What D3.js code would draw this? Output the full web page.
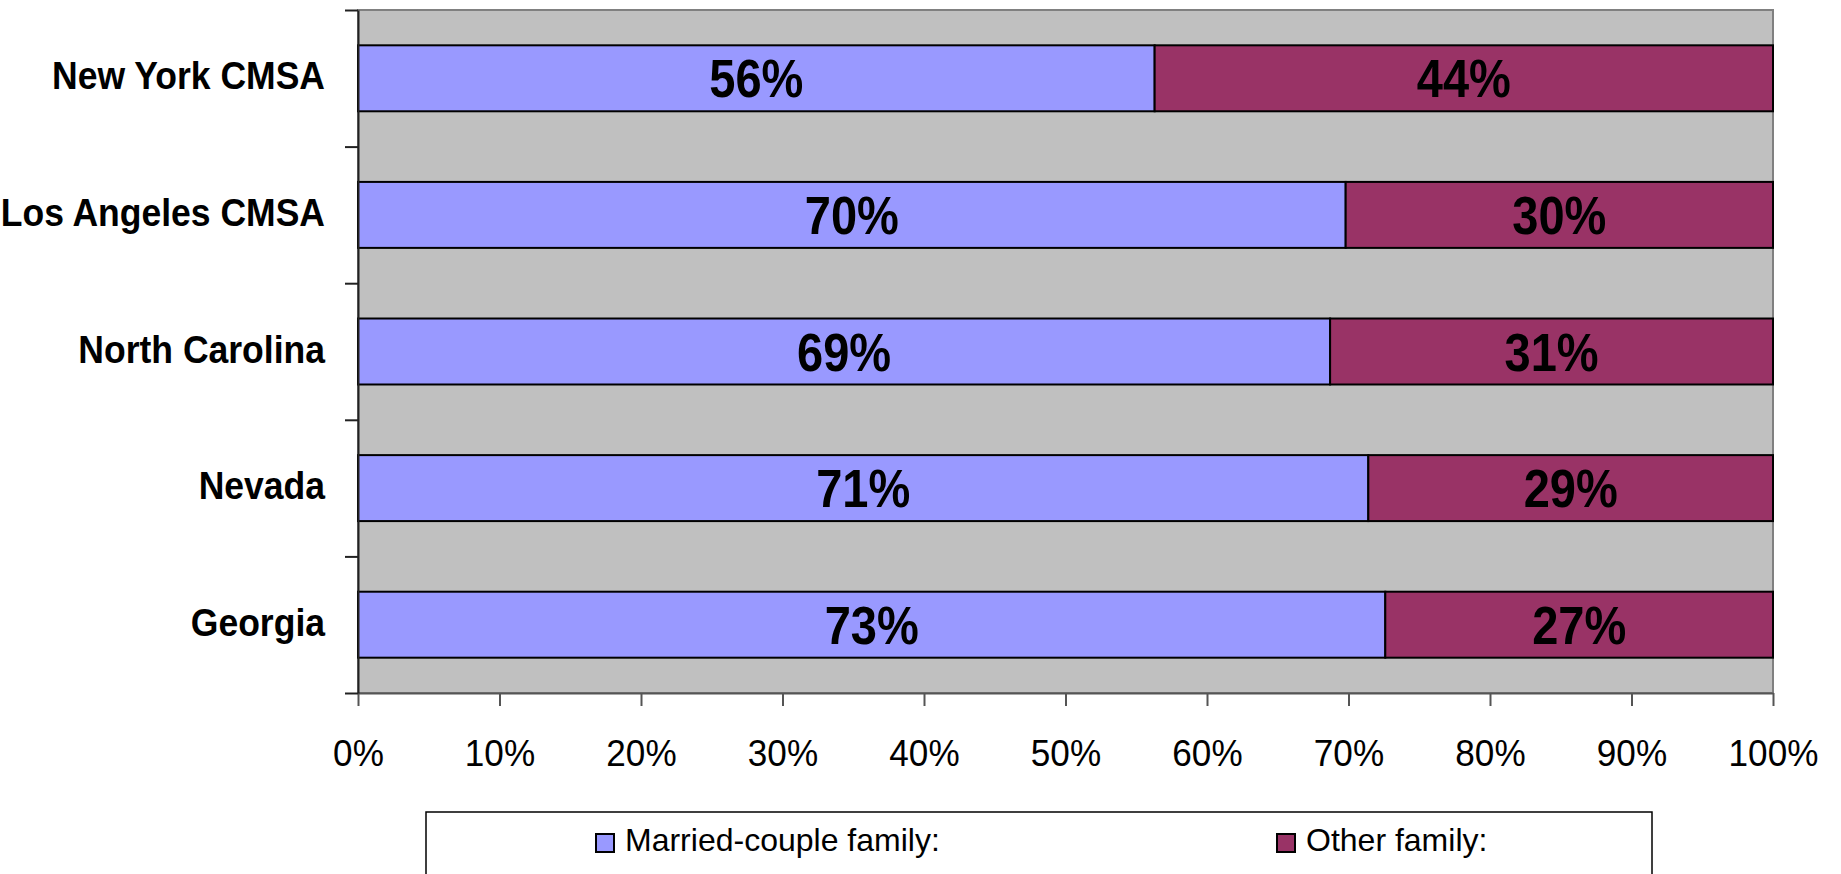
<!DOCTYPE html>
<html>
<head>
<meta charset="utf-8">
<script src="https://cdn.jsdelivr.net/npm/d3@7"></script>
<style>
  body { margin: 0; background: #fff; }
  svg { display: block; font-family: "Liberation Sans", Arial, sans-serif; }
</style>
</head>
<body>
<script>
// data
const categories = ["New York CMSA", "Los Angeles CMSA", "North Carolina", "Nevada", "Georgia"];
const married = [56.3, 69.8, 68.7, 71.4, 72.6];
const other = married.map(v => 100 - v);
const seriesNames = ["Married-couple family:", "Other family:"];
const colors = ["#9999FF", "#993366"];
const xTicks = [0, 10, 20, 30, 40, 50, 60, 70, 80, 90, 100];

const w = 1841, h = 874;
const plotL = 358, plotR = 1773, plotT = 10, plotB = 693;

const svg = d3.select("body").append("svg")
    .attr("width", w)
    .attr("height", h);

const x = d3.scaleLinear().domain([0, 100]).range([plotL, plotR]);
const y = d3.scaleBand().domain(categories).range([plotT, plotB])
    .paddingInner(0.517).paddingOuter(0.2585);
// band edges for the left ticks
const yEdge = d3.scaleLinear().domain([0, categories.length]).range([plotT, plotB]);

// plot background
svg.append("rect")
    .attr("x", plotL).attr("y", plotT)
    .attr("width", plotR - plotL).attr("height", plotB - plotT)
    .attr("fill", "#C0C0C0")
    .attr("stroke", "#808080")
    .attr("stroke-width", 2);

// stacked bars
const rows = categories.map((c, i) => ({cat: c, vals: [married[i], other[i]]}));
const g = svg.append("g");
rows.forEach(r => {
    let acc = 0;
    r.vals.forEach((v, k) => {
        const x0 = acc;
        acc += v;
        g.append("rect")
            .attr("x", x(x0)).attr("y", y(r.cat))
            .attr("width", x(acc) - x(x0)).attr("height", y.bandwidth())
            .attr("fill", colors[k])
            .attr("stroke", "#000")
            .attr("stroke-width", 2);
        const cx = x((x0 + acc) / 2);
        const cy = y(r.cat) + y.bandwidth() / 2 + 19;
        g.append("text")
            .attr("transform", `translate(${cx},${cy}) scale(0.87,1)`)
            .attr("text-anchor", "middle")
            .attr("font-size", 54)
            .attr("font-weight", "bold")
            .attr("fill", "#000")
            .text(Math.round(v) + "%");
    });
});

// x axis
const xAxis = svg.append("g")
    .attr("transform", `translate(0,${plotB})`)
    .call(d3.axisBottom(x).tickValues(xTicks).tickSize(13).tickSizeOuter(0).tickFormat(d => d + "%"));
xAxis.select(".domain").attr("stroke", "#555").attr("stroke-width", 2);
xAxis.selectAll(".tick line").attr("stroke", "#555").attr("stroke-width", 2);
xAxis.selectAll(".tick text")
    .attr("y", 0).attr("dy", null)
    .attr("transform", "translate(0,73) scale(0.95,1)")
    .attr("font-size", 37)
    .attr("font-family", "'Liberation Sans', Arial, sans-serif")
    .attr("fill", "#000");

// y axis: ticks at band edges, labels separate
const yAxis = svg.append("g")
    .attr("transform", `translate(${plotL},0)`)
    .call(d3.axisLeft(yEdge).ticks(categories.length).tickSize(13).tickSizeOuter(0).tickFormat(""));
yAxis.select(".domain").attr("stroke", "#222").attr("stroke-width", 2);
yAxis.selectAll(".tick line").attr("stroke", "#222").attr("stroke-width", 2);

svg.append("g").selectAll("text")
    .data(categories)
    .join("text")
    .attr("transform", d => `translate(325,${y(d) + y.bandwidth() / 2 + 11}) scale(0.935,1)`)
    .attr("text-anchor", "end")
    .attr("font-size", 38)
    .attr("font-weight", "bold")
    .attr("fill", "#000")
    .text(d => d);

// legend
svg.append("rect")
    .attr("x", 426).attr("y", 812)
    .attr("width", 1652 - 426).attr("height", 100)
    .attr("fill", "#fff")
    .attr("stroke", "#000")
    .attr("stroke-width", 1.5);

const legendX = [596, 1277];
seriesNames.forEach((name, i) => {
    svg.append("rect")
        .attr("x", legendX[i]).attr("y", 834)
        .attr("width", 18).attr("height", 18)
        .attr("fill", colors[i])
        .attr("stroke", "#000")
        .attr("stroke-width", 2);
    svg.append("text")
        .attr("x", legendX[i] + 29).attr("y", 851)
        .attr("font-size", 32)
        .attr("fill", "#000")
        .text(name);
});
</script>
</body>
</html>
